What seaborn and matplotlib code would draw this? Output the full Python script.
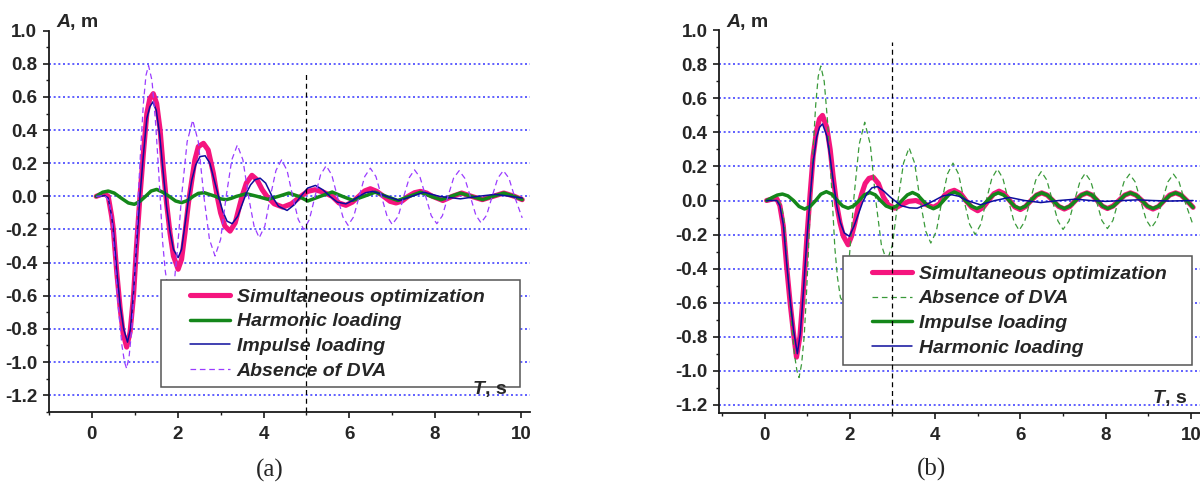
import matplotlib
matplotlib.use("Agg")
import matplotlib.pyplot as plt
from matplotlib.patches import Rectangle
from matplotlib.ticker import MultipleLocator, FormatStrFormatter
import seaborn as sns

# ---- data (t in s, A in m) ----
# Absence of DVA (same free response in both panels)
abs_t = [0.1, 0.3, 0.4, 0.46, 0.54, 0.62, 0.7, 0.76, 0.81, 0.87, 0.93, 0.98, 1.03, 1.08,
         1.14, 1.2, 1.26, 1.32, 1.4, 1.48, 1.54, 1.59, 1.65, 1.71, 1.78, 1.85, 1.92, 1.99,
         2.04, 2.09, 2.22, 2.35, 2.48, 2.61, 2.74, 2.87, 3.0, 3.13, 3.26, 3.39, 3.52, 3.65,
         3.78, 3.9, 4.03, 4.16, 4.29, 4.42, 4.55, 4.68, 4.81, 4.94, 5.07, 5.2, 5.33, 5.46,
         5.59, 5.72, 5.85, 5.97, 6.1, 6.23, 6.36, 6.49, 6.62, 6.75, 6.88, 7.0, 7.14, 7.27,
         7.4, 7.52, 7.65, 7.78, 7.91, 8.04, 8.17, 8.3, 8.43, 8.56, 8.69, 8.82, 8.95, 9.07,
         9.2, 9.33, 9.46, 9.59, 9.72, 9.85, 10.03]
abs_a = [0.0, 0.005, -0.03, -0.12, -0.4, -0.68, -0.9, -1.0, -1.04, -0.96, -0.8, -0.57, -0.3, 0.0,
         0.3, 0.56, 0.73, 0.79, 0.7, 0.46, 0.22, 0.0, -0.28, -0.45, -0.57, -0.6, -0.52, -0.33,
         -0.17, 0.0, 0.33, 0.46, 0.33, 0.0, -0.26, -0.36, -0.26, 0.0, 0.22, 0.31, 0.22, 0.0,
         -0.18, -0.25, -0.18, 0.0, 0.156, 0.22, 0.156, 0.0, -0.14, -0.2, -0.14, 0.0, 0.13, 0.185,
         0.13, 0.0, -0.124, -0.175, -0.124, 0.0, 0.12, 0.17, 0.12, 0.0, -0.12, -0.17, -0.12, 0.0,
         0.114, 0.16, 0.114, 0.0, -0.117, -0.165, -0.117, 0.0, 0.11, 0.155, 0.11, 0.0, -0.114, -0.16,
         -0.114, 0.0, 0.11, 0.155, 0.11, 0.0, -0.13]

# panel (a)
sim_a_t = [0.1, 0.2, 0.3, 0.38, 0.46, 0.5, 0.58, 0.66, 0.73, 0.81, 0.89, 0.97, 1.04, 1.12,
           1.2, 1.28, 1.35, 1.43, 1.51, 1.59, 1.66, 1.74, 1.82, 1.9, 2.01, 2.09, 2.17, 2.25,
           2.33, 2.4, 2.48, 2.6, 2.71, 2.83, 2.92, 3.0, 3.1, 3.22, 3.34, 3.42, 3.5, 3.6,
           3.73, 3.85, 3.97, 4.08, 4.25, 4.45, 4.65, 4.87, 5.03, 5.2, 5.4, 5.6, 5.76, 5.92,
           6.07, 6.22, 6.36, 6.49, 6.64, 6.8, 6.95, 7.09, 7.23, 7.37, 7.52, 7.66, 7.8, 7.94,
           8.18, 8.4, 8.62, 8.85, 9.1, 9.35, 9.6, 9.85, 10.03]
sim_a_a = [0.0, 0.01, 0.015, 0.0, -0.12, -0.2, -0.46, -0.68, -0.83, -0.91, -0.82, -0.6, -0.3, 0.0,
           0.26, 0.5, 0.59, 0.62, 0.56, 0.4, 0.18, -0.04, -0.22, -0.36, -0.44, -0.38, -0.22, -0.04,
           0.1, 0.22, 0.3, 0.32, 0.28, 0.14, 0.0, -0.1, -0.18, -0.21, -0.16, -0.08, 0.0, 0.08,
           0.127, 0.1, 0.04, 0.0, -0.045, -0.065, -0.045, 0.0, 0.03, 0.04, 0.025, 0.0, -0.04, -0.054,
           -0.035, 0.0, 0.033, 0.046, 0.03, 0.0, -0.03, -0.04, -0.028, 0.0, 0.022, 0.03, 0.02, 0.0,
           -0.025, 0.0, 0.02, 0.0, -0.02, 0.0, 0.02, 0.0, -0.02]

harm_a_t = [0.1, 0.25, 0.38, 0.52, 0.68, 0.85, 0.99, 1.12, 1.25, 1.38, 1.51, 1.65, 1.8, 1.95,
            2.09, 2.23, 2.36, 2.48, 2.62, 2.76, 2.88, 3.0, 3.13, 3.25, 3.37, 3.6, 3.85, 4.1,
            4.35, 4.59, 4.82, 5.03, 5.32, 5.6, 5.84, 6.08, 6.34, 6.6, 6.86, 7.13, 7.4, 7.66,
            7.9, 8.14, 8.37, 8.59, 8.85, 9.11, 9.35, 9.6, 9.85, 10.03]
harm_a_a = [0.0, 0.025, 0.032, 0.02, -0.01, -0.04, -0.048, -0.03, 0.0, 0.032, 0.042, 0.025, 0.0, -0.028,
            -0.038, -0.025, 0.0, 0.018, 0.022, 0.01, 0.0, -0.015, -0.02, -0.012, 0.0, 0.016, 0.0, -0.018,
            0.0, 0.02, 0.0, -0.028, 0.0, 0.026, 0.0, -0.024, 0.0, 0.025, 0.0, -0.025, 0.0, 0.025,
            0.0, -0.02, 0.0, 0.02, 0.0, -0.02, 0.0, 0.02, 0.0, -0.02]

imp_a_t = [0.1, 0.2, 0.3, 0.38, 0.46, 0.5, 0.58, 0.66, 0.74, 0.83, 0.9, 0.97, 1.04, 1.12,
           1.2, 1.28, 1.35, 1.42, 1.5, 1.58, 1.66, 1.74, 1.82, 1.9, 2.01, 2.09, 2.17, 2.25,
           2.33, 2.42, 2.52, 2.64, 2.75, 2.85, 2.95, 3.05, 3.15, 3.27, 3.4, 3.5, 3.6, 3.7,
           3.8, 3.92, 4.05, 4.2, 4.35, 4.55, 4.72, 4.87, 5.03, 5.21, 5.38, 5.55, 5.72, 5.92,
           6.08, 6.22, 6.38, 6.55, 6.72, 6.87, 7.17, 7.45, 7.74, 8.1, 8.59, 9.0, 9.4, 9.75, 10.03]
imp_a_a = [0.0, 0.0, 0.005, -0.01, -0.12, -0.2, -0.45, -0.66, -0.8, -0.88, -0.8, -0.58, -0.3, 0.0,
           0.25, 0.47, 0.54, 0.57, 0.52, 0.37, 0.15, -0.06, -0.21, -0.32, -0.37, -0.32, -0.17, -0.02,
           0.1, 0.19, 0.24, 0.245, 0.2, 0.1, 0.0, -0.09, -0.15, -0.165, -0.12, -0.05, 0.02, 0.07,
           0.1, 0.11, 0.08, 0.0, -0.06, -0.085, -0.05, 0.0, 0.05, 0.066, 0.04, 0.0, -0.035, -0.045,
           -0.025, 0.0, 0.022, 0.03, 0.015, 0.0, -0.025, 0.0, 0.025, 0.0, -0.015, 0.0, 0.012, 0.0, -0.01]

# panel (b)
sim_b_t = [0.05, 0.2, 0.29, 0.36, 0.44, 0.52, 0.6, 0.68, 0.75, 0.83, 0.91, 0.99, 1.07, 1.14,
           1.22, 1.29, 1.36, 1.46, 1.54, 1.61, 1.69, 1.77, 1.85, 1.96, 2.04, 2.12, 2.2, 2.28,
           2.36, 2.45, 2.55, 2.67, 2.79, 2.9, 3.06, 3.21, 3.38, 3.55, 3.75, 3.96, 4.1, 4.22,
           4.33, 4.45, 4.6, 4.72, 4.86, 5.0, 5.13, 5.25, 5.38, 5.5, 5.62, 5.75, 5.87, 6.0,
           6.12, 6.25, 6.38, 6.5, 6.63, 6.76, 6.9, 7.03, 7.16, 7.29, 7.43, 7.56, 7.68, 7.8,
           7.92, 8.04, 8.17, 8.31, 8.45, 8.58, 8.71, 8.85, 8.98, 9.11, 9.24, 9.37, 9.5, 9.64,
           9.77, 9.9, 10.05]
sim_b_a = [0.0, 0.01, 0.01, -0.03, -0.15, -0.39, -0.6, -0.78, -0.92, -0.8, -0.54, -0.23, 0.04, 0.26,
           0.41, 0.48, 0.5, 0.43, 0.3, 0.14, -0.02, -0.13, -0.21, -0.26, -0.21, -0.13, -0.035, 0.04,
           0.1, 0.13, 0.137, 0.1, 0.02, -0.025, -0.045, -0.025, -0.005, 0.0, -0.02, -0.04, -0.02, 0.03,
           0.05, 0.06, 0.04, 0.0, -0.04, -0.06, -0.04, 0.0, 0.04, 0.055, 0.04, 0.0, -0.038, -0.053,
           -0.035, 0.0, 0.032, 0.045, 0.032, 0.0, -0.035, -0.05, -0.035, 0.0, 0.032, 0.045, 0.032, 0.0,
           -0.033, -0.047, -0.033, 0.0, 0.032, 0.045, 0.032, 0.0, -0.035, -0.05, -0.035, 0.0, 0.032, 0.045,
           0.032, 0.0, -0.04]

imp_b_t = [0.05, 0.2, 0.3, 0.42, 0.55, 0.68, 0.81, 0.94, 1.07, 1.2, 1.32, 1.45, 1.58, 1.71,
           1.83, 1.96, 2.09, 2.22, 2.34, 2.47, 2.6, 2.72, 2.85, 2.98, 3.1, 3.22, 3.35, 3.47,
           3.59, 3.71, 3.84, 3.96, 4.08, 4.2, 4.33, 4.45, 4.58, 4.71, 4.85, 4.98, 5.1, 5.23,
           5.36, 5.48, 5.61, 5.74, 5.86, 5.99, 6.12, 6.25, 6.37, 6.5, 6.63, 6.77, 6.9, 7.03,
           7.16, 7.3, 7.43, 7.56, 7.68, 7.81, 7.93, 8.05, 8.18, 8.32, 8.45, 8.58, 8.71, 8.85,
           8.98, 9.11, 9.24, 9.38, 9.51, 9.64, 9.77, 9.9, 10.05]
imp_b_a = [0.0, 0.02, 0.032, 0.038, 0.027, 0.0, -0.035, -0.05, -0.035, 0.0, 0.037, 0.052, 0.037, 0.0,
           -0.032, -0.045, -0.032, 0.0, 0.033, 0.047, 0.033, 0.0, -0.032, -0.045, -0.032, 0.0, 0.033, 0.047,
           0.033, 0.0, -0.034, -0.048, -0.034, 0.0, 0.035, 0.05, 0.035, 0.0, -0.033, -0.047, -0.033, 0.0,
           0.032, 0.045, 0.032, 0.0, -0.033, -0.047, -0.033, 0.0, 0.032, 0.045, 0.032, 0.0, -0.033, -0.047,
           -0.033, 0.0, 0.032, 0.045, 0.032, 0.0, -0.033, -0.047, -0.033, 0.0, 0.032, 0.045, 0.032, 0.0,
           -0.033, -0.047, -0.033, 0.0, 0.032, 0.045, 0.032, 0.0, -0.04]

harm_b_t = [0.05, 0.2, 0.29, 0.36, 0.44, 0.52, 0.6, 0.68, 0.77, 0.84, 0.91, 0.99, 1.07, 1.14,
            1.22, 1.29, 1.36, 1.46, 1.54, 1.62, 1.7, 1.78, 1.87, 1.99, 2.1, 2.2, 2.3, 2.4,
            2.52, 2.65, 2.8, 2.95, 3.05, 3.2, 3.4, 3.58, 3.78, 3.98, 4.18, 4.37, 4.56, 4.75,
            5.06, 5.4, 5.75, 6.1, 6.48, 6.9, 7.3, 7.65, 8.0, 8.4, 8.74, 9.1, 9.5, 10.05]
harm_b_a = [0.0, 0.0, 0.0, -0.03, -0.14, -0.37, -0.58, -0.76, -0.9, -0.78, -0.54, -0.24, 0.02, 0.22,
            0.37, 0.43, 0.45, 0.38, 0.25, 0.1, -0.04, -0.13, -0.19, -0.21, -0.15, -0.08, -0.01, 0.04,
            0.075, 0.082, 0.055, 0.02, 0.0, -0.03, -0.043, -0.045, -0.025, 0.0, 0.027, 0.035, 0.025, 0.0,
            -0.025, 0.0, 0.018, 0.0, -0.012, 0.0, 0.008, 0.0, -0.005, 0.0, 0.004, 0.0, -0.003, 0.0]

# labels and styles
lbl_sim = "Simultaneous optimization"
lbl_abs = "Absence of DVA"
lbl_imp = "Impulse loading"
lbl_harm = "Harmonic loading"

pink = "#f5157e"
green = "#14871a"
navy = "#0d0d9c"
violet = "#9a3cff"
light_green = "#3a9a3a"
grid_blue = "#4646ff"

y_ticks = [-1.2, -1.0, -0.8, -0.6, -0.4, -0.2, 0.0, 0.2, 0.4, 0.6, 0.8, 1.0]
marker_a = (5.0, 0.75)   # vertical dashed line: position and top
marker_b = (3.0, 0.93)

sns.set_theme(style="white")
plt.rcParams["font.family"] = ["Liberation Sans", "DejaVu Sans"]
plt.rcParams["font.weight"] = "bold"
plt.rcParams["axes.unicode_minus"] = False

fig = plt.figure(figsize=(12, 4.84), dpi=100)
W, H = 1200, 484


def px_axes(l, t, r, b):
    return fig.add_axes([l / W, 1 - b / H, (r - l) / W, (b - t) / H])


ax_a = px_axes(49, 30.7, 529.5, 411.7)
ax_b = px_axes(719.3, 30.3, 1199.5, 413.3)


def style_axes(ax, xlim, ylim):
    ax.set_xlim(*xlim)
    ax.set_ylim(*ylim)
    ax.xaxis.set_major_locator(MultipleLocator(2))
    ax.xaxis.set_minor_locator(MultipleLocator(1))
    ax.set_yticks(y_ticks)
    ax.yaxis.set_minor_locator(MultipleLocator(0.1))
    ax.yaxis.set_major_formatter(FormatStrFormatter("%.1f"))
    ax.set_xlabel("")
    ax.set_ylabel("")
    for s in ["top", "right"]:
        ax.spines[s].set_visible(False)
    for s in ["left", "bottom"]:
        ax.spines[s].set_linewidth(1.3)
        ax.spines[s].set_color("#1a1a1a")
    ax.tick_params(which="major", direction="out", length=4.5, width=1.2,
                   color="#1a1a1a", labelsize=13.5, left=True, bottom=True)
    ax.tick_params(which="minor", direction="out", length=2.5, width=1.0,
                   color="#1a1a1a", left=True, bottom=True)
    ax.tick_params(axis="y", which="major", pad=4)
    ax.tick_params(axis="x", which="major", pad=5.5)
    ax.set_axisbelow(True)
    ax.yaxis.grid(True, which="major", color=grid_blue, linestyle=(0, (1.2, 1.6)), linewidth=1.2)
    ax.xaxis.grid(False)
    ax.get_ygridlines()[-1].set_visible(False)


def line(ax, t, a, color, lw, ls="-"):
    sns.lineplot(x=t, y=a, ax=ax, color=color, linewidth=lw, linestyle=ls,
                 estimator=None, sort=False, legend=False)
    return ax.lines[-1]


dash = (0, (4.5, 3))

# ---- panel (a)
h_sim = line(ax_a, sim_a_t, sim_a_a, pink, 3.7)
h_harm = line(ax_a, harm_a_t, harm_a_a, green, 2.5)
h_imp = line(ax_a, imp_a_t, imp_a_a, navy, 1.1)
h_abs = line(ax_a, abs_t, abs_a, violet, 0.9, dash)
style_axes(ax_a, (-1, 10.2), (-1.3, 1.0))
handles_a = [h_sim, h_harm, h_imp, h_abs]
labels_a = [lbl_sim, lbl_harm, lbl_imp, lbl_abs]

# ---- panel (b)
h2_sim = line(ax_b, sim_b_t, sim_b_a, pink, 3.7)
h2_abs = line(ax_b, abs_t, abs_a, light_green, 0.9, dash)
h2_imp = line(ax_b, imp_b_t, imp_b_a, green, 2.5)
h2_harm = line(ax_b, harm_b_t, harm_b_a, navy, 1.1)
style_axes(ax_b, (-1.06, 10.2), (-1.25, 1.0))
handles_b = [h2_sim, h2_abs, h2_imp, h2_harm]
labels_b = [lbl_sim, lbl_abs, lbl_imp, lbl_harm]


def legend_box(ax, handles, labels, box, anchor):
    # box and anchor given in figure pixels
    bb = ax.get_position()
    l0, b0 = bb.x0 * W, (1 - bb.y1) * H
    w, h = bb.width * W, bb.height * H
    x0, y0, x1, y1 = box
    rect = Rectangle(((x0 - l0) / w, (b0 + h - y1) / h), (x1 - x0) / w, (y1 - y0) / h,
                     transform=ax.transAxes, facecolor="white", edgecolor="#555555",
                     linewidth=1.1, zorder=4, clip_on=False)
    ax.add_patch(rect)
    leg = ax.legend(handles, labels, loc="upper left",
                    bbox_to_anchor=((anchor[0] - l0) / w, (b0 + h - anchor[1]) / h),
                    borderaxespad=0, borderpad=0, frameon=False, handlelength=2.05,
                    handletextpad=0.36, labelspacing=0.37,
                    prop={"family": "Liberation Sans", "weight": "bold", "style": "italic", "size": 14})
    leg.set_zorder(5)


legend_box(ax_a, handles_a, labels_a, (161, 280, 520, 387), (190, 288))
legend_box(ax_b, handles_b, labels_b, (843, 256, 1192, 365), (872, 265))

for ax, (mx, mtop) in [(ax_a, marker_a), (ax_b, marker_b)]:
    ax.vlines(mx, ax.get_ylim()[0], mtop, colors="black", linestyles=(0, (4, 3)),
              linewidth=0.9, zorder=6)


def unit_label(x, y, sym, unit):
    t1 = fig.text(x / W, 1 - y / H, sym, fontsize=14, fontweight="bold",
                  fontstyle="italic", va="baseline", ha="left")
    plt.annotate(unit, xy=(1, 0), xycoords=t1, fontsize=14, fontweight="bold",
                 va="bottom", ha="left", annotation_clip=False)


unit_label(56, 26.7, "A", ", m")
unit_label(726, 26.7, "A", ", m")
unit_label(473, 394, "T", ", s")
unit_label(1152.7, 403, "T", ", s")

fig.text(269.5 / W, 1 - 470 / H, "(a)", family="Liberation Serif", fontweight="normal",
         fontsize=18, ha="center", va="center")
fig.text(931 / W, 1 - 469 / H, "(b)", family="Liberation Serif", fontweight="normal",
         fontsize=18, ha="center", va="center")

fig.savefig("out.png", dpi=100)
